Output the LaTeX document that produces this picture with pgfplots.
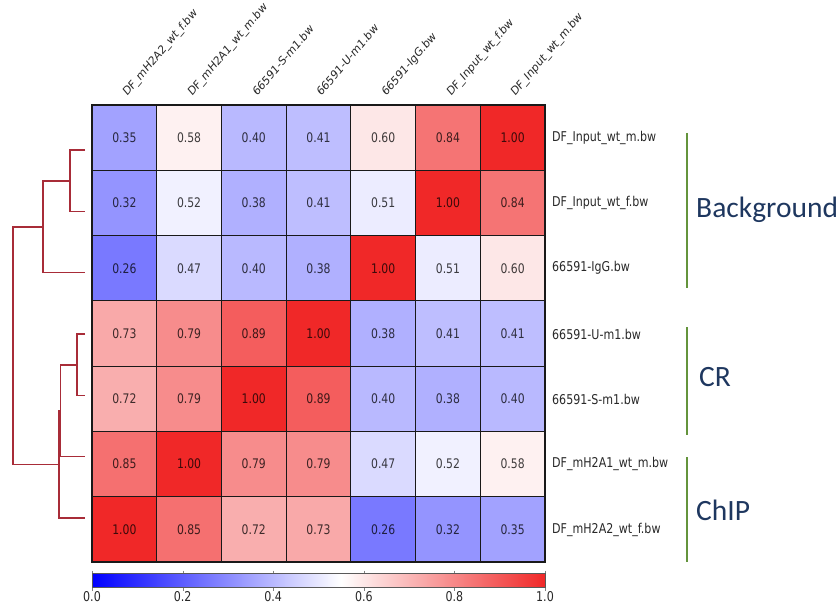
\documentclass[border=0pt]{standalone}
\usepackage{pgfplots}
\pgfplotsset{compat=1.18}
\usepackage{pgfplotstable}
\usepackage{fontspec}
\setmainfont{DejaVu Sans}
\newfontfamily\sqz[FakeStretch=0.82]{DejaVu Sans}
\newfontfamily\carlito{Carlito}
\definecolor{dendro}{RGB}{168,44,56}
\definecolor{brk}{RGB}{100,148,60}
\definecolor{grp}{RGB}{30,55,95}
\definecolor{lbl}{RGB}{40,40,40}

\pgfplotstableread{
x y v
0 0 0.35
1 0 0.58
2 0 0.40
3 0 0.41
4 0 0.60
5 0 0.84
6 0 1.00
0 1 0.32
1 1 0.52
2 1 0.38
3 1 0.41
4 1 0.51
5 1 1.00
6 1 0.84
0 2 0.26
1 2 0.47
2 2 0.40
3 2 0.38
4 2 1.00
5 2 0.51
6 2 0.60
0 3 0.73
1 3 0.79
2 3 0.89
3 3 1.00
4 3 0.38
5 3 0.41
6 3 0.41
0 4 0.72
1 4 0.79
2 4 1.00
3 4 0.89
4 4 0.40
5 4 0.38
6 4 0.40
0 5 0.85
1 5 1.00
2 5 0.79
3 5 0.79
4 5 0.47
5 5 0.52
6 5 0.58
0 6 1.00
1 6 0.85
2 6 0.72
3 6 0.73
4 6 0.26
5 6 0.32
6 6 0.35
}\heat

\begin{document}
\begin{tikzpicture}
\path[use as bounding box] (0,0) rectangle (840pt,604pt);

\begin{axis}[
  at={(92pt,42pt)}, anchor=south west,
  scale only axis, width=453pt, height=457pt,
  xmin=-0.5, xmax=6.5, ymin=-0.5, ymax=6.5, y dir=reverse,
  xtick={-0.5,0.5,...,6.5}, ytick={-0.5,0.5,...,6.5},
  xticklabels={}, yticklabels={},
  major tick length=0pt,
  grid=major, major grid style={black!90, line width=1.2pt},
  axis line style={black!90, line width=1.2pt},
  axis on top,
  colormap={bwrs}{rgb255(0cm)=(0,0,255); rgb255(11cm)=(255,255,255); rgb255(20cm)=(240,40,40)},
  point meta min=0, point meta max=1,
  colorbar horizontal,
  colorbar style={
    at={(parent axis.south west)}, anchor=north west, yshift=-3pt,
    scale only axis, width=453pt, height=14pt,
    xtick={0,0.2,0.4,0.6,0.8,1}, xticklabels={0.0,0.2,0.4,0.6,0.8,1.0},
    xticklabel style={font=\sqz\fontsize{13.5}{15}\selectfont, text=lbl, inner sep=0.5pt},
    xtick align=outside, major tick length=3pt,
    axis line style={black!65, line width=0.6pt},
    grid=none,
  },
]
\addplot[matrix plot*, mesh/cols=7, point meta=explicit] table[x=x, y=y, meta=v] {\heat};
\addplot[only marks, mark=none, point meta=explicit,
  nodes near coords, nodes near coords align=center,
  every node near coord/.append style={font=\sqz\fontsize{13.2}{15}\selectfont, text=black, text opacity=0.75,
    /pgf/number format/fixed, /pgf/number format/fixed zerofill,
    /pgf/number format/precision=2, /pgf/number format/assume math mode=true}]
  table[x=x, y=y, meta=v] {\heat};
\end{axis}

\begin{axis}[
  at={(0pt,0pt)}, anchor=south west,
  scale only axis, width=840pt, height=604pt,
  xmin=0, xmax=840, ymin=0, ymax=604, y dir=reverse,
  hide axis, clip=false,
]
% dendrogram
\addplot[dendro, line width=1.3pt, mark=none] coordinates {(85,150) (70,150) (70,211.3) (85,211.3)};
\addplot[dendro, line width=1.3pt, mark=none] coordinates {(70,181) (43,181) (43,272.7) (85,272.7)};
\addplot[dendro, line width=1.3pt, mark=none] coordinates {(85,334) (77,334) (77,395.3) (85,395.3)};
\addplot[dendro, line width=1.3pt, mark=none] coordinates {(77,365) (60.5,365) (60.5,456.7) (85,456.7)};
\addplot[dendro, line width=1.3pt, mark=none] coordinates {(60.5,411) (59,411) (59,518) (85,518)};
\addplot[dendro, line width=1.3pt, mark=none] coordinates {(43,227) (13,227) (13,464.5) (59,464.5)};
% group brackets
\addplot[brk, line width=2.4pt, mark=none] coordinates {(687,133) (687,288)};
\addplot[brk, line width=2.4pt, mark=none] coordinates {(687,327) (687,435)};
\addplot[brk, line width=2.4pt, mark=none] coordinates {(687,457) (687,562)};
% group labels
\node[anchor=west, text=grp, inner sep=0pt, font=\carlito\fontsize{29.5}{34}\selectfont] at (axis cs:696,210) {Background};
\node[anchor=west, text=grp, inner sep=0pt, font=\carlito\fontsize{29.5}{34}\selectfont] at (axis cs:699,377) {CR};
\node[anchor=west, text=grp, inner sep=0pt, font=\carlito\fontsize{29.5}{34}\selectfont] at (axis cs:696,510) {ChIP};
% row labels
\begin{scope}[every node/.style={anchor=west, inner sep=0pt, text=lbl, font=\sqz\fontsize{13.5}{15}\selectfont}]
\node at (axis cs:552,138) {DF\_Input\_wt\_m.bw};
\node at (axis cs:552,203) {DF\_Input\_wt\_f.bw};
\node at (axis cs:552,268) {66591-IgG.bw};
\node at (axis cs:552,334) {66591-U-m1.bw};
\node at (axis cs:552,399) {66591-S-m1.bw};
\node at (axis cs:552,464) {DF\_mH2A1\_wt\_m.bw};
\node at (axis cs:552,530) {DF\_mH2A2\_wt\_f.bw};
\end{scope}
% column labels
\begin{scope}[every node/.style={anchor=base west, xscale=0.85, rotate=45, inner sep=0pt, text=lbl, font=\fontsize{12}{14}\selectfont}]
\node at (axis cs:127,97) {DF\_mH2A2\_wt\_f.bw};
\node at (axis cs:192,97) {DF\_mH2A1\_wt\_m.bw};
\node at (axis cs:257,97) {66591-S-m1.bw};
\node at (axis cs:321,97) {66591-U-m1.bw};
\node at (axis cs:386,97) {66591-IgG.bw};
\node at (axis cs:451,97) {DF\_Input\_wt\_f.bw};
\node at (axis cs:515,97) {DF\_Input\_wt\_m.bw};
\end{scope}
\end{axis}
\end{tikzpicture}
\end{document}
